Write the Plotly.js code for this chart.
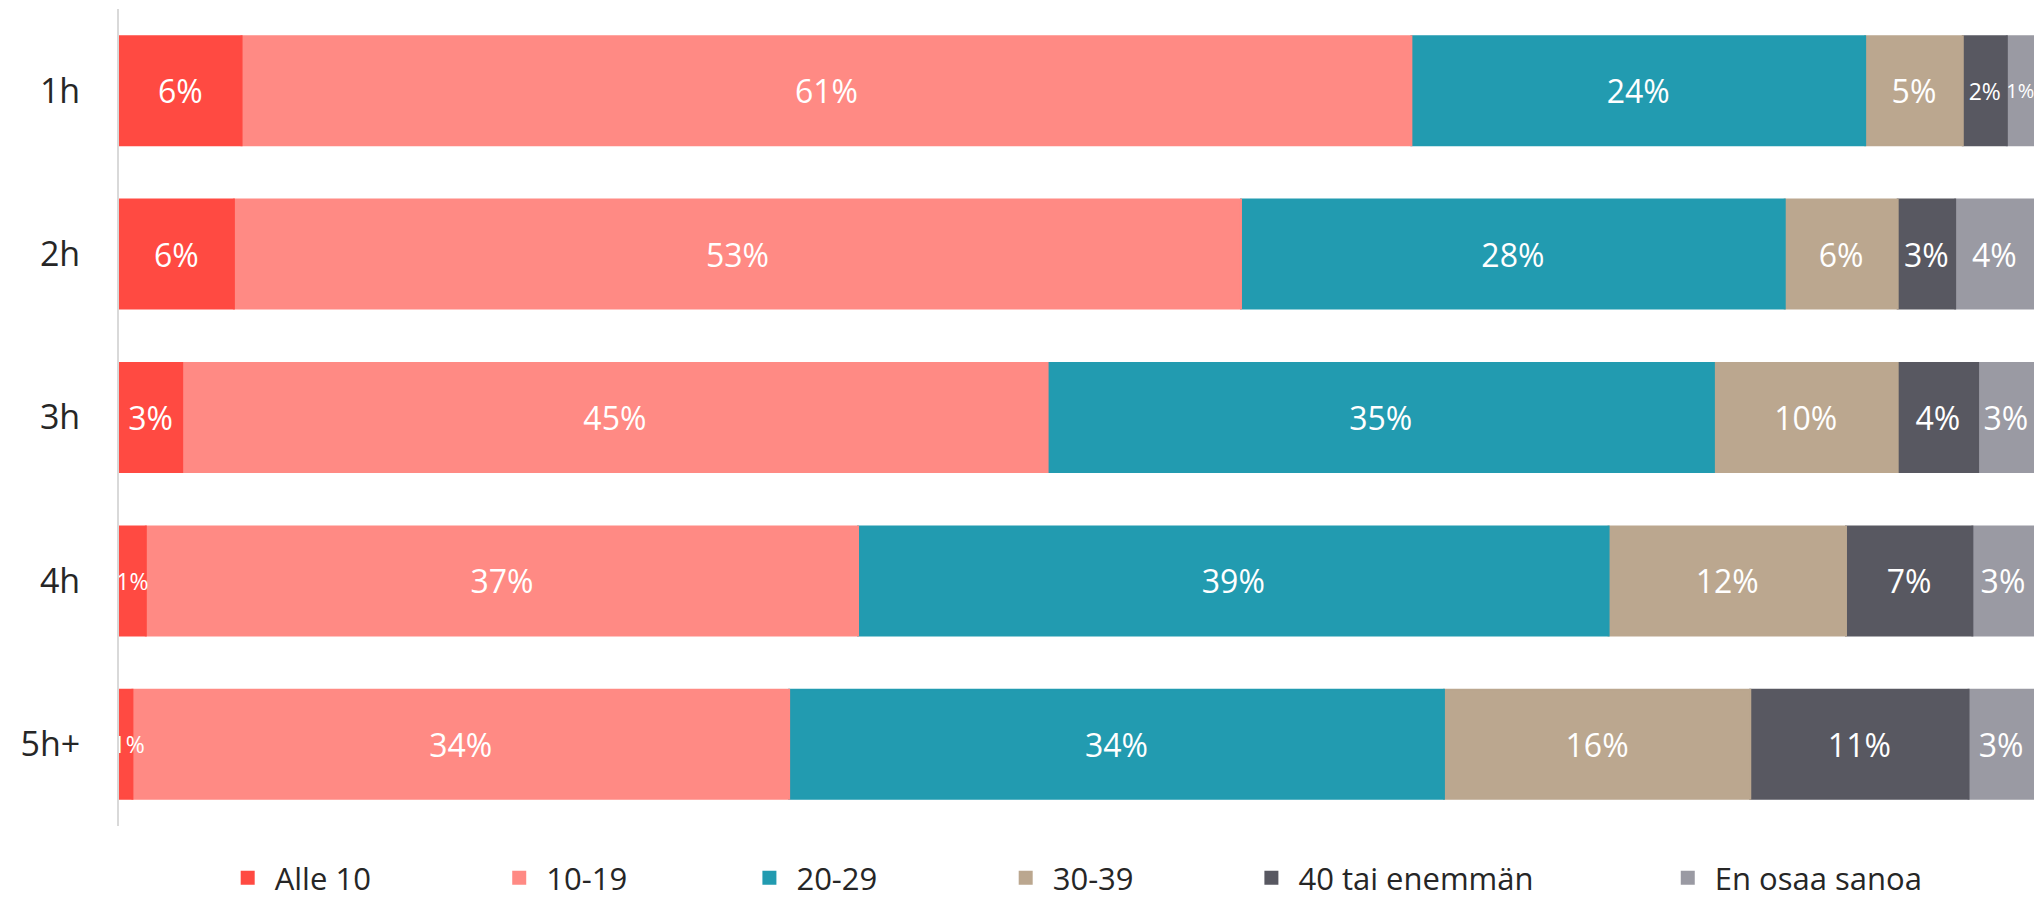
<!DOCTYPE html>
<html>
<head>
<meta charset="utf-8">
<script src="https://cdn.plot.ly/plotly-3.0.1.min.js"></script>
<style>html,body{margin:0;padding:0;background:#fff;}#chart{width:2034px;height:905px;}</style>
</head>
<body>
<div id="chart"></div>
<script>
// Categories (rows, top to bottom)
const categories = ['1h', '2h', '3h', '4h', '5h+'];
// Series names (legend)
const seriesNames = ['Alle 10', '10-19', '20-29', '30-39', '40 tai enemmän', 'En osaa sanoa'];
// Series values (percent of respondents)
const alle10      = [6.4, 6.0, 3.3, 1.4, 0.7];
const v10_19      = [61.1, 52.6, 45.2, 37.2, 34.3];
const v20_29      = [23.7, 28.4, 34.8, 39.2, 34.2];
const v30_39      = [5.1, 5.9, 9.6, 12.4, 16.0];
const v40plus     = [2.3, 3.0, 4.2, 6.6, 11.4];
const enOsaa      = [1.4, 4.1, 2.9, 3.2, 3.4];

const seriesValues = [alle10, v10_19, v20_29, v30_39, v40plus, enOsaa];
const colors = ['#FF4A42', '#FF8A84', '#229BB0', '#BBA78F', '#585861', '#9A9AA3'];
const FONT = '"Open Sans", "Noto Sans", sans-serif';

// per-point label sizes (narrow segments use smaller labels)
const L = 32, S = 23;
const labelSizes = [
  [L, L, L, S, S],
  [L, L, L, L, L],
  [L, L, L, L, L],
  [L, L, L, L, L],
  [S, L, L, L, L],
  [20, L, L, L, L]
];

// legend placement (container fraction) for each series
const legendX = [0.1085, 0.2420, 0.3650, 0.4910, 0.6118, 0.8165];
const legendIds = ['legend', 'legend2', 'legend3', 'legend4', 'legend5', 'legend6'];

// cumulative bases so each segment starts where the previous one ends
const bases = seriesValues.map((vals, i) =>
  vals.map((_, j) => seriesValues.slice(0, i).reduce((s, arr) => s + arr[j], 0)));

const NB = '\u00a0';
const traces = seriesValues.map((vals, i) => ({
  type: 'bar',
  orientation: 'h',
  name: seriesNames[i],
  y: categories,
  x: vals,
  base: bases[i],
  marker: { color: colors[i], line: { color: colors[i], width: 2 } },
  // the thinnest first segment gets its label nudged right so it starts on the bar
  texttemplate: vals.map(v => (v < 1 ? NB + '%{x:.0f}%' : '%{x:.0f}%')),
  textposition: 'inside',
  insidetextanchor: 'middle',
  constraintext: 'none',
  textangle: 0,
  cliponaxis: false,
  textfont: { color: '#ffffff', size: labelSizes[i], family: FONT },
  legend: legendIds[i],
  hoverinfo: 'name+x'
})).reverse(); // draw left-most segments last so their overflowing labels stay visible

const layout = {
  width: 2034,
  height: 905,
  margin: { l: 119, r: 0, t: 9, b: 79, autoexpand: false },
  paper_bgcolor: '#ffffff',
  plot_bgcolor: '#ffffff',
  barmode: 'overlay',
  bargap: 0.333,
  xaxis: {
    range: [0, 100.02],
    visible: false,
    fixedrange: true
  },
  yaxis: {
    type: 'category',
    categoryorder: 'array',
    categoryarray: categories,
    autorange: 'reversed',
    showline: true,
    linecolor: '#d9d9d9',
    linewidth: 2,
    showgrid: false,
    zeroline: false,
    ticks: '',
    ticklabelstandoff: 30,
    tickfont: { family: FONT, size: 34, color: '#262626' }
  },
  showlegend: true
};

legendIds.forEach((id, i) => {
  layout[id] = {
    orientation: 'h',
    font: { family: FONT, size: 31, color: '#262626' },
    bgcolor: 'rgba(0,0,0,0)',
    xref: 'container',
    yref: 'container',
    x: legendX[i],
    xanchor: 'left',
    y: -0.01,
    yanchor: 'bottom',
    itemwidth: 44
  };
});

Plotly.newPlot('chart', traces, layout, { displayModeBar: false, staticPlot: true });
</script>
</body>
</html>
